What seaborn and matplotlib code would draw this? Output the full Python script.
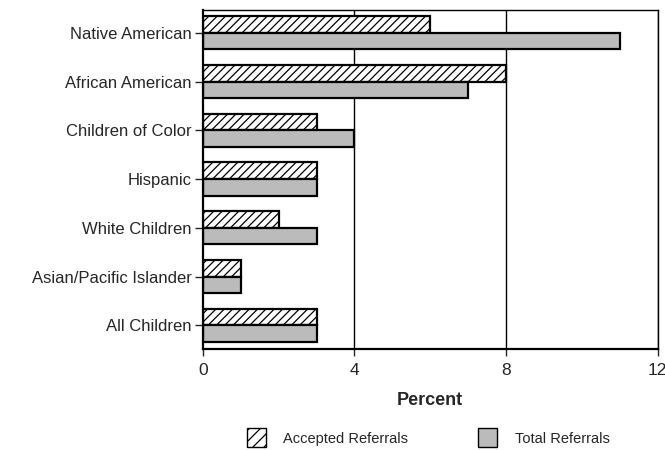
import matplotlib
matplotlib.use("Agg")
import matplotlib.pyplot as plt
import pandas as pd
import seaborn as sns
from matplotlib.patches import Patch

# values (percent)
groups = ["Native American", "African American", "Children of Color", "Hispanic",
          "White Children", "Asian/Pacific Islander", "All Children"]
accepted = [6, 8, 3, 3, 2, 1, 3]
total = [11, 7, 4, 3, 3, 1, 3]
series = ["Accepted Referrals", "Total Referrals"]
x_ticks = [0, 4, 8, 12]

df = pd.DataFrame({
    "group": groups * 2,
    "pct": accepted + total,
    "series": [series[0]] * len(groups) + [series[1]] * len(groups),
})

sns.set_style("white")
plt.rcParams["font.family"] = ["Liberation Sans", "DejaVu Sans"]
plt.rcParams["hatch.linewidth"] = 0.9

fig = plt.figure(figsize=(6.65, 4.5), dpi=100)
ax = fig.add_axes([0.305, 0.224, 0.684, 0.754])

sns.barplot(data=df, y="group", x="pct", hue="series", hue_order=series,
            order=groups, orient="h", palette=["white", "#bbbbbb"],
            width=0.68, edgecolor="black", linewidth=1.6, saturation=1,
            legend=False, ax=ax)
# accepted referrals get the diagonal hatch
for bar in ax.containers[0]:
    bar.set_hatch("////")

ax.set_xlim(0, 12)
ax.set_ylim(6.49, -0.47)
ax.set_xticks(x_ticks)
ax.set_xticklabels([str(t) for t in x_ticks], fontsize=12.5)
ax.tick_params(axis="y", labelsize=12, length=6, width=1, direction="out", left=True, pad=2)
ax.tick_params(axis="x", length=5, width=1, direction="out", bottom=True, pad=5)
ax.set_ylabel("")
ax.set_xlabel("Percent", fontsize=13, fontweight="bold", labelpad=10)
for x in x_ticks[1:]:
    ax.axvline(x, color="black", linewidth=1, zorder=0)
for s in ax.spines.values():
    s.set_color("black")
    s.set_linewidth(1)
ax.spines["left"].set_linewidth(1.6)
ax.spines["bottom"].set_linewidth(1.6)

handles = [Patch(facecolor="white", edgecolor="black", hatch="///", linewidth=1),
           Patch(facecolor="#bbbbbb", edgecolor="black", linewidth=1)]
fig.legend(handles, series, loc="center", bbox_to_anchor=(0.644, 0.027), ncol=2,
           frameon=False, fontsize=10.5, handlelength=1.3, handleheight=1.6,
           handletextpad=1.2, columnspacing=4.8)

fig.savefig("out.png", dpi=100)
